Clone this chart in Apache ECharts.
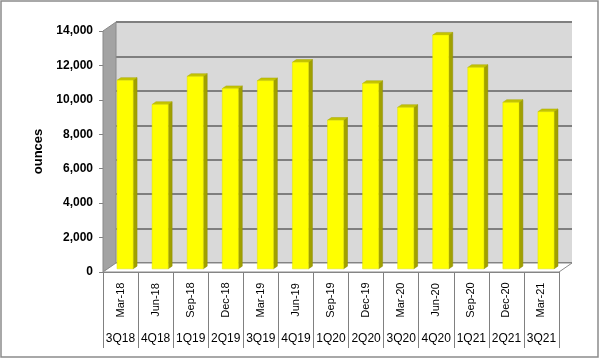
<!DOCTYPE html>
<html>
<head>
<meta charset="utf-8">
<script src="https://cdn.jsdelivr.net/npm/echarts@6/dist/echarts.min.js"></script>
<style>html,body{margin:0;padding:0;background:#fff}#c{width:600px;height:360px}</style>
</head>
<body>
<div id="c"></div>
<script>
var months = ['Mar-18','Jun-18','Sep-18','Dec-18','Mar-19','Jun-19','Sep-19','Dec-19','Mar-20','Jun-20','Sep-20','Dec-20','Mar-21'];
var quarters = ['3Q18','4Q18','1Q19','2Q19','3Q19','4Q19','1Q20','2Q20','3Q20','4Q20','1Q21','2Q21','3Q21'];
var ounces = [10950, 9550, 11180, 10470, 10930, 12000, 8630, 10770, 9380, 13580, 11700, 9670, 9130];
var yMin = 0, yMax = 14000, yStep = 2000;

var FONT = 'Liberation Sans, Arial, sans-serif';
var DX = 13, DY = -9;           // depth offset of the 3D box
var front = {left: 103, top: 31, right: 41, bottom: 88};
var back = {left: front.left + DX, top: front.top + DY, right: front.right - DX, bottom: front.bottom - DY};

var chart = echarts.init(document.getElementById('c'));
chart.setOption({
  backgroundColor: '#ffffff',
  animation: false,
  graphic: [{
    type: 'rect', shape: {x: 1, y: 1, width: 597, height: 356},
    style: {fill: 'none', stroke: '#8c8c8c', lineWidth: 1.5}, z: 100
  }],
  grid: [
    Object.assign({show: true, backgroundColor: '#d9d9d9', borderWidth: 0}, back),
    Object.assign({show: false}, front)
  ],
  xAxis: [
    {gridIndex: 0, type: 'category', data: months, show: false},
    {gridIndex: 1, type: 'category', data: months, position: 'bottom',
     axisLine: {show: true, lineStyle: {color: '#808080', width: 1}},
     axisTick: {show: true, interval: 0, length: 76, alignWithLabel: false, lineStyle: {color: '#808080', width: 1}},
     axisLabel: {interval: 0, rotate: 90, margin: 8, color: '#000', fontFamily: FONT, fontSize: 11,
       formatter: function (v) { return '{a|' + v + '}'; },
       rich: {a: {width: 40, align: 'center', fontFamily: FONT, fontSize: 11, color: '#000'}}}
    },
    {gridIndex: 1, type: 'category', data: quarters, position: 'bottom',
     axisLine: {show: false}, axisTick: {show: false},
     axisLabel: {interval: 0, margin: 61, color: '#000', fontFamily: FONT, fontSize: 12}
    }
  ],
  yAxis: [
    {gridIndex: 0, type: 'value', min: yMin, max: yMax, interval: yStep,
     axisLine: {show: false}, axisTick: {show: false}, axisLabel: {show: false},
     splitLine: {show: true, lineStyle: {color: '#7f7f7f', width: 2}}},
    {gridIndex: 1, type: 'value', min: yMin, max: yMax, interval: yStep,
     name: 'ounces', nameLocation: 'middle', nameRotate: 90, nameGap: 57,
     nameTextStyle: {fontFamily: FONT, fontSize: 13, fontWeight: 'bold', color: '#000'},
     axisLine: {show: true, lineStyle: {color: '#808080', width: 1}},
     axisTick: {show: true, length: 4, lineStyle: {color: '#808080', width: 1}},
     splitLine: {show: false},
     axisLabel: {margin: 10, color: '#000', fontFamily: FONT, fontSize: 12, fontWeight: 'bold',
       formatter: function (v) { return v.toLocaleString('en-US'); }}}
  ],
  series: [
    {
      type: 'custom', name: 'walls', xAxisIndex: 1, yAxisIndex: 1, z: 1, silent: true,
      data: [[0, 0]],
      renderItem: function (params, api) {
        var cs = params.coordSys;
        var x = cs.x, y = cs.y, w = cs.width, h = cs.height;
        return {type: 'group', children: [
          {type: 'polygon', shape: {points: [[x, y], [x + DX, y + DY], [x + DX, y + h + DY], [x, y + h]]},
           style: {fill: '#a3a3a3', stroke: '#8a8a8a', lineWidth: 1}},
          {type: 'polygon', shape: {points: [[x, y + h], [x + w, y + h], [x + w + DX, y + h + DY], [x + DX, y + h + DY]]},
           style: {fill: '#ffffff', stroke: '#8a8a8a', lineWidth: 1}}
        ]};
      }
    },
    {
      type: 'custom', name: 'ounces', xAxisIndex: 1, yAxisIndex: 1, z: 5,
      data: ounces.map(function (v, i) { return [i, v]; }),
      encode: {x: 0, y: 1},
      renderItem: function (params, api) {
        var idx = api.value(0), val = api.value(1);
        var c = api.coord([idx, val]);
        var c0 = api.coord([idx, 0]);
        var band = api.size([1, 0])[0];
        var f0 = 0.35, fd = 0.3;
        var bw = band * 0.46;
        var cx = c[0] + DX * f0;
        var l = cx - bw / 2, r = cx + bw / 2;
        var top = c[1] + DY * f0, bot = c0[1] + DY * f0;
        var ddx = DX * fd, ddy = DY * fd;
        return {type: 'group', children: [
          {type: 'polygon', shape: {points: [[r, top], [r + ddx, top + ddy], [r + ddx, bot + ddy], [r, bot]]},
           style: {fill: '#a0a000', stroke: '#8f8f00', lineWidth: 0.5}},
          {type: 'polygon', shape: {points: [[l, top], [l + ddx, top + ddy], [r + ddx, top + ddy], [r, top]]},
           style: {fill: '#c4c400', stroke: '#a8a800', lineWidth: 0.5}},
          {type: 'rect', shape: {x: l, y: top, width: bw, height: bot - top},
           style: {fill: '#ffff00', stroke: '#e0e000', lineWidth: 0.5}}
        ]};
      }
    }
  ]
});
</script>
</body>
</html>
